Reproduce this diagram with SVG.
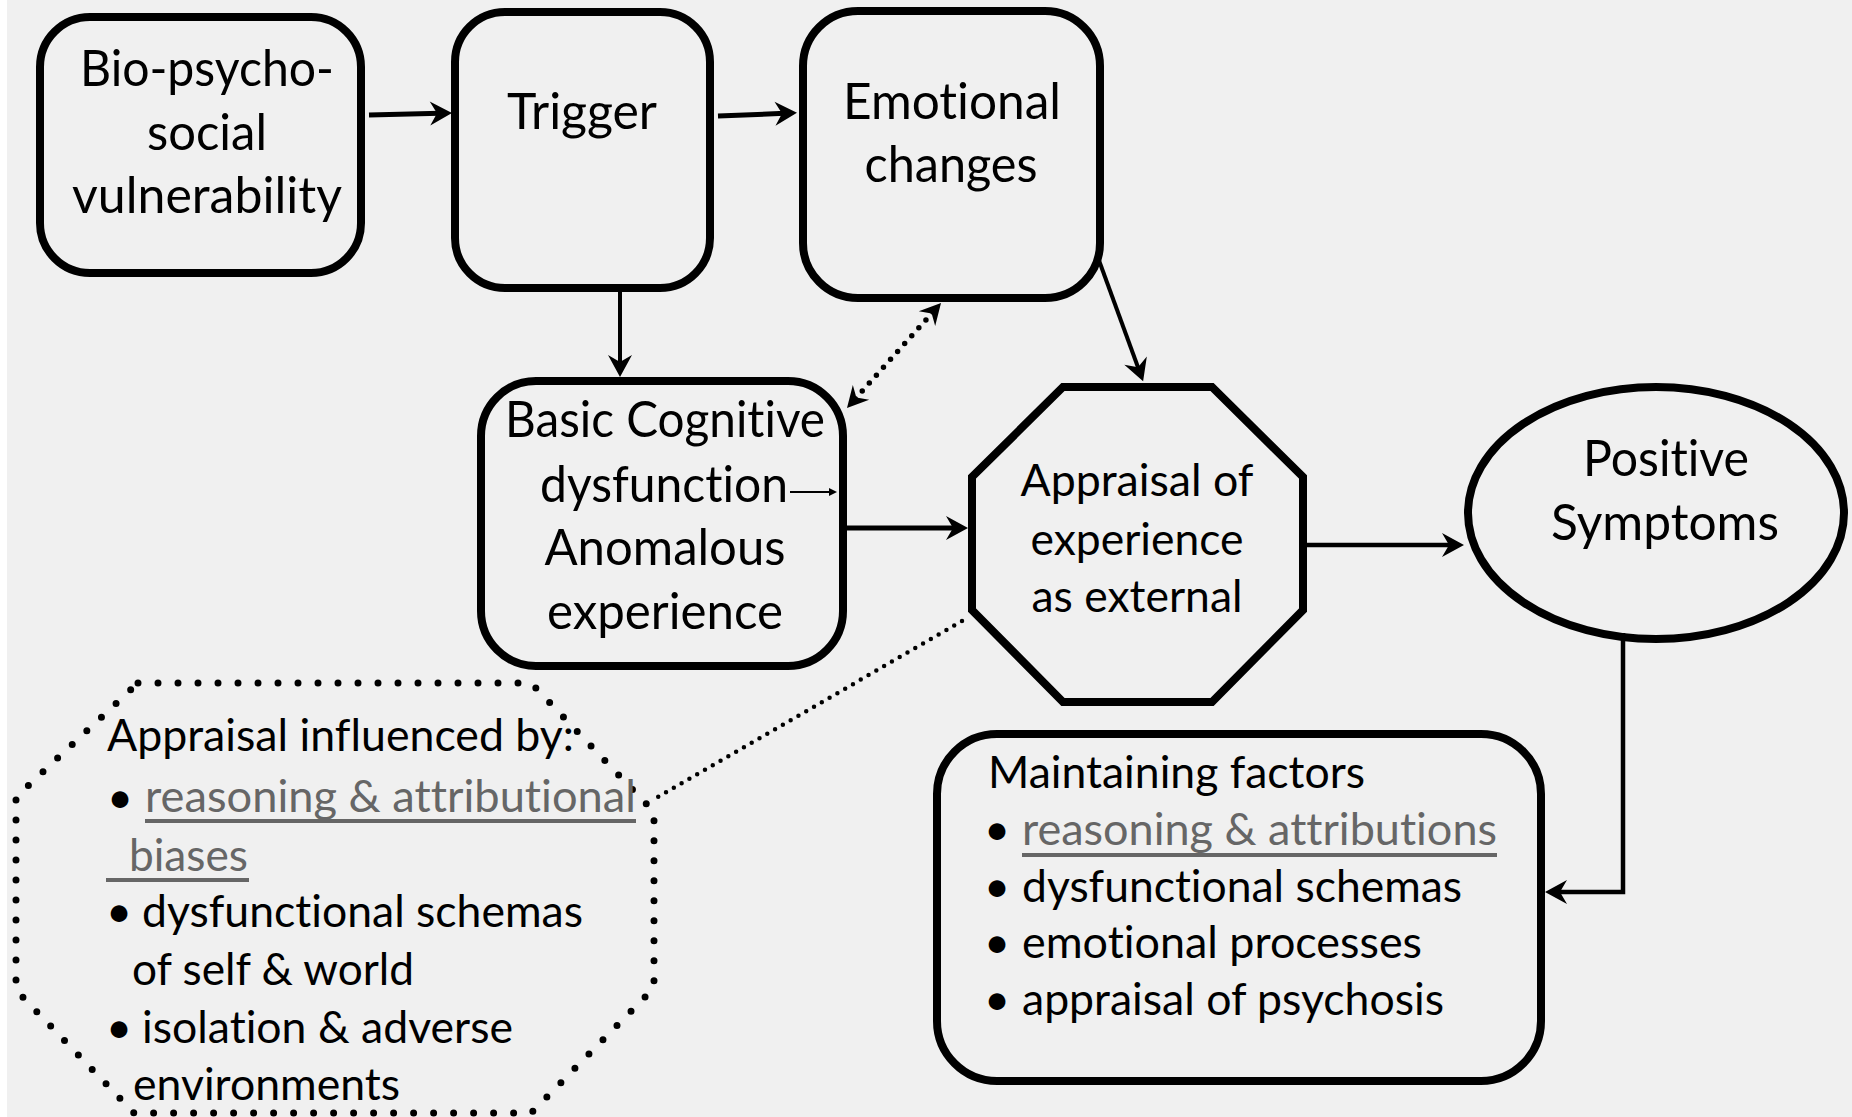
<svg xmlns="http://www.w3.org/2000/svg" width="1852" height="1117" viewBox="0 0 1852 1117">
<defs>
<style>
.bg{fill:#f0f0f0}
.box{fill:none;stroke:#000;stroke-width:8}
.t{font-family:Lato,"Open Sans","Liberation Sans",sans-serif;fill:#000;font-variant-ligatures:none;font-feature-settings:"liga" 0,"clig" 0}
.big{font-size:51px}
.sm{font-size:45px}
.mid{text-anchor:middle}
.gray{fill:#666}
.ul{stroke:#666;stroke-width:4}
.conn{fill:none;stroke:#000}
.dots{fill:none;stroke:#000;stroke-linecap:round}
</style>
<marker id="ah" markerUnits="userSpaceOnUse" markerWidth="28" markerHeight="28" refX="12" refY="13" orient="auto" overflow="visible">
<path d="M24,13 L2,1 L9,13 L2,25 Z" fill="#000"/>
</marker>
<marker id="ahd" markerUnits="userSpaceOnUse" markerWidth="28" markerHeight="28" refX="10" refY="12" orient="auto-start-reverse" overflow="visible">
<path d="M22,12 L1,1 L8,12 L1,23 Z" fill="#000"/>
</marker>
<marker id="ahs" markerUnits="userSpaceOnUse" markerWidth="12" markerHeight="12" refX="2" refY="4" orient="auto" overflow="visible">
<path d="M8,4 L0,0 L0,8 Z" fill="#000"/>
</marker>
</defs>
<rect class="bg" x="0" y="0" width="1852" height="1117"/>
<rect x="0" y="0" width="7" height="1117" fill="#ffffff"/>

<g id="connectors">
<line class="conn" stroke-width="5" x1="369" y1="115" x2="440" y2="113.3" marker-end="url(#ah)"/>
<line class="conn" stroke-width="5" x1="718" y1="116" x2="785" y2="113.3" marker-end="url(#ah)"/>
<line class="conn" stroke-width="4" x1="620" y1="292" x2="620" y2="365" marker-end="url(#ah)"/>
<line class="conn" stroke-width="4" x1="1097" y1="255" x2="1139" y2="370" marker-end="url(#ah)"/>
<line class="conn" stroke-width="5" x1="843" y1="528" x2="956" y2="528" marker-end="url(#ah)"/>
<line class="conn" stroke-width="4.5" x1="1307" y1="545" x2="1452" y2="545" marker-end="url(#ah)"/>
<polyline class="conn" stroke-width="4.5" points="1623,633 1623,892 1557,892" marker-end="url(#ah)"/>
<line class="dots" stroke-width="5.5" stroke-dasharray="0 10.6" x1="933" y1="312" x2="855" y2="399" marker-start="url(#ahd)" marker-end="url(#ahd)"/>
<line class="dots" stroke-width="4.5" stroke-dasharray="0 9" x1="962" y1="621" x2="658" y2="797"/>
<line class="conn" stroke-width="1.8" x1="790" y1="492" x2="831" y2="492" marker-end="url(#ahs)"/>
</g>

<g id="node-vulnerability">
<rect class="box" x="40" y="17" width="321" height="256" rx="50"/>
<text class="t big mid" x="207" y="86" textLength="254" lengthAdjust="spacingAndGlyphs">Bio-psycho-</text>
<text class="t big mid" x="207" y="150" textLength="120" lengthAdjust="spacingAndGlyphs">social</text>
<text class="t big mid" x="207" y="213" textLength="270" lengthAdjust="spacingAndGlyphs">vulnerability</text>
</g>

<g id="node-trigger">
<rect class="box" x="455" y="12" width="255" height="276" rx="50"/>
<text class="t big mid" x="582" y="129" textLength="150" lengthAdjust="spacingAndGlyphs">Trigger</text>
</g>

<g id="node-emotional">
<rect class="box" x="803" y="11" width="297" height="287" rx="55"/>
<text class="t big mid" x="952" y="119" textLength="218" lengthAdjust="spacingAndGlyphs">Emotional</text>
<text class="t big mid" x="951" y="182" textLength="173" lengthAdjust="spacingAndGlyphs">changes</text>
</g>

<g id="node-cognitive">
<rect class="box" x="481" y="381" width="362" height="285" rx="55"/>
<text class="t big mid" x="665" y="437" textLength="320" lengthAdjust="spacingAndGlyphs">Basic Cognitive</text>
<text class="t big mid" x="664" y="502" textLength="248" lengthAdjust="spacingAndGlyphs">dysfunction</text>
<text class="t big mid" x="665" y="565" textLength="241" lengthAdjust="spacingAndGlyphs">Anomalous</text>
<text class="t big mid" x="665" y="629" textLength="236" lengthAdjust="spacingAndGlyphs">experience</text>
</g>

<g id="node-appraisal">
<polygon class="box" stroke-width="8.5" points="1063,387 1212,387 1303,477 1303,610 1212,702 1063,702 972,610 972,477"/>
<text class="t sm mid" x="1137" y="496" textLength="233" lengthAdjust="spacingAndGlyphs">Appraisal of</text>
<text class="t sm mid" x="1137" y="555" textLength="213" lengthAdjust="spacingAndGlyphs">experience</text>
<text class="t sm mid" x="1137" y="612" textLength="211" lengthAdjust="spacingAndGlyphs">as external</text>
</g>

<g id="node-positive">
<ellipse class="box" stroke-width="7.5" cx="1656" cy="513" rx="188" ry="126"/>
<text class="t big mid" x="1666" y="476" textLength="166" lengthAdjust="spacingAndGlyphs">Positive</text>
<text class="t big mid" x="1665" y="540" textLength="228" lengthAdjust="spacingAndGlyphs">Symptoms</text>
</g>

<g id="node-maintaining">
<rect class="box" stroke-width="8.5" x="937" y="734" width="604" height="347" rx="60"/>
<text class="t sm" x="988" y="788" textLength="377" lengthAdjust="spacingAndGlyphs">Maintaining factors</text>
<text class="t sm mid" x="997" y="845">•</text>
<text class="t sm gray" x="1022" y="845" textLength="475" lengthAdjust="spacingAndGlyphs">reasoning &amp; attributions</text>
<line class="ul" x1="1022" y1="855" x2="1497" y2="855"/>
<text class="t sm mid" x="997" y="902">•</text>
<text class="t sm" x="1022" y="902" textLength="440" lengthAdjust="spacingAndGlyphs">dysfunctional schemas</text>
<text class="t sm mid" x="997" y="958">•</text>
<text class="t sm" x="1022" y="958" textLength="400" lengthAdjust="spacingAndGlyphs">emotional processes</text>
<text class="t sm mid" x="997" y="1015">•</text>
<text class="t sm" x="1022" y="1015" textLength="422" lengthAdjust="spacingAndGlyphs">appraisal of psychosis</text>
</g>

<g id="node-influences">
<polygon class="dots" stroke-width="7" stroke-dasharray="0 20" points="138,683 531,683 654,812 654,988 531,1113 134,1113 16,990 16,797"/>
<text class="t sm" x="107" y="751" textLength="467" lengthAdjust="spacingAndGlyphs">Appraisal influenced by:</text>
<text class="t sm mid" x="120" y="813" font-size="54">•</text>
<text class="t sm gray" x="145" y="812" textLength="491" lengthAdjust="spacingAndGlyphs">reasoning &amp; attributional</text>
<line class="ul" x1="145" y1="821" x2="636" y2="821"/>
<text class="t sm gray" x="129" y="871" textLength="119" lengthAdjust="spacingAndGlyphs">biases</text>
<line class="ul" x1="106" y1="880" x2="249" y2="880"/>
<text class="t sm mid" x="119" y="927">•</text>
<text class="t sm" x="142" y="927" textLength="441" lengthAdjust="spacingAndGlyphs">dysfunctional schemas</text>
<text class="t sm" x="132" y="985" textLength="282" lengthAdjust="spacingAndGlyphs">of self &amp; world</text>
<text class="t sm mid" x="119" y="1043">•</text>
<text class="t sm" x="142" y="1043" textLength="371" lengthAdjust="spacingAndGlyphs">isolation &amp; adverse</text>
<text class="t sm" x="133" y="1100" textLength="267" lengthAdjust="spacingAndGlyphs">environments</text>
</g>
</svg>
